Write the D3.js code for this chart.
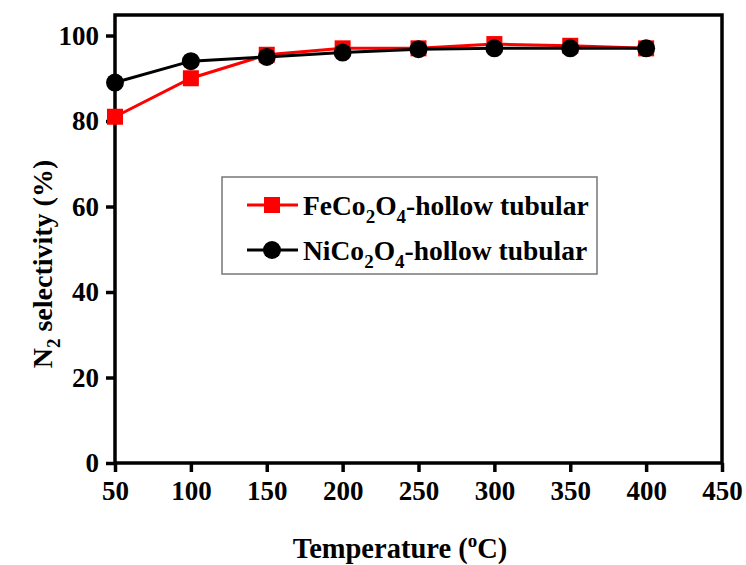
<!DOCTYPE html>
<html>
<head>
<meta charset="utf-8">
<script src="https://cdn.jsdelivr.net/npm/d3@7"></script>
<style>
  body { margin: 0; background: #fff; }
</style>
</head>
<body>
<div id="chart"></div>
<script>
var svgWidth = 746;
var svgHeight = 565;

var temps = [50, 100, 150, 200, 250, 300, 350, 400];
var feCo = [81, 90, 95.5, 97, 97, 98, 97.6, 97];
var niCo = [89, 94, 95, 96, 96.8, 97, 97, 97];
var xTicks = [50, 100, 150, 200, 250, 300, 350, 400, 450];
var yTicks = [0, 20, 40, 60, 80, 100];

var FONT = "Liberation Serif";

var margin = { top: 15, right: 24, bottom: 102, left: 115 };
var width = svgWidth - margin.left - margin.right;
var height = svgHeight - margin.top - margin.bottom;

var svg = d3.select("#chart").append("svg")
  .attr("width", svgWidth)
  .attr("height", svgHeight)
  .attr("font-family", FONT)
  .attr("font-weight", "bold");

var chart = svg.append("g")
  .attr("transform", `translate(${margin.left}, ${margin.top})`);

var x = d3.scaleLinear().domain([50, 450]).range([0, width]);
var y = d3.scaleLinear().domain([0, 104.8]).range([height, 0]);

// frame
chart.append("rect")
  .attr("width", width).attr("height", height)
  .attr("fill", "none").attr("stroke", "#000").attr("stroke-width", 3.5);

var xAxis = chart.append("g")
  .attr("transform", `translate(0, ${height})`)
  .call(d3.axisBottom(x).tickValues(xTicks).tickSize(9).tickPadding(9).tickFormat(d3.format("d")));
var yAxis = chart.append("g")
  .call(d3.axisLeft(y).tickValues(yTicks).tickSize(9).tickPadding(7).tickFormat(d3.format("d")));

[xAxis, yAxis].forEach(function(a) {
  a.attr("font-family", FONT).attr("font-size", 27).attr("font-weight", "bold");
  a.select(".domain").remove();
  a.selectAll("line").attr("stroke", "#000").attr("stroke-width", 3.5);
  a.selectAll("text").attr("fill", "#000");
});

var series = [
  { name: "FeCo", values: feCo, color: "#ff0000", shape: "square" },
  { name: "NiCo", values: niCo, color: "#000000", shape: "circle" }
];

var line = d3.line().x((d, i) => x(temps[i])).y(d => y(d));

series.forEach(function(s) {
  chart.append("path")
    .datum(s.values)
    .attr("d", line)
    .attr("fill", "none")
    .attr("stroke", s.color)
    .attr("stroke-width", 3);
  var pts = chart.selectAll(null).data(s.values).enter();
  if (s.shape === "square") {
    pts.append("rect")
      .attr("x", (d, i) => x(temps[i]) - 8)
      .attr("y", d => y(d) - 8)
      .attr("width", 16).attr("height", 16)
      .attr("fill", s.color);
  } else {
    pts.append("circle")
      .attr("cx", (d, i) => x(temps[i]))
      .attr("cy", d => y(d))
      .attr("r", 9)
      .attr("fill", s.color);
  }
});

// legend
var legend = svg.append("g").attr("transform", "translate(222, 177)");
legend.append("rect")
  .attr("width", 375).attr("height", 97)
  .attr("fill", "#fff").attr("stroke", "#777").attr("stroke-width", 1.5);

var legendNames = ["Fe", "Ni"];
series.forEach(function(s, i) {
  var ly = 28 + i * 45;
  var g = legend.append("g").attr("transform", `translate(0, ${ly})`);
  g.append("line").attr("x1", 25).attr("x2", 76).attr("y1", 0).attr("y2", 0)
    .attr("stroke", s.color).attr("stroke-width", 3);
  if (s.shape === "square") {
    g.append("rect").attr("x", 42).attr("y", -8).attr("width", 16).attr("height", 16).attr("fill", s.color);
  } else {
    g.append("circle").attr("cx", 50).attr("cy", 0).attr("r", 9).attr("fill", s.color);
  }
  var t = g.append("text").attr("x", 81).attr("y", 10).attr("font-size", 27.5).attr("fill", "#000");
  t.append("tspan").text(legendNames[i] + "Co");
  t.append("tspan").attr("dy", 8).attr("font-size", 19).text("2");
  t.append("tspan").attr("dy", -8).text("O");
  t.append("tspan").attr("dy", 8).attr("font-size", 19).text("4");
  t.append("tspan").attr("dy", -8).text("-hollow tubular");
});

// axis titles
var xt = svg.append("text")
  .attr("x", 400)
  .attr("y", 558)
  .attr("text-anchor", "middle")
  .attr("font-size", 28.5);
xt.append("tspan").text("Temperature (");
xt.append("tspan").attr("dy", -11).attr("font-size", 19).text("o");
xt.append("tspan").attr("dy", 11).text("C)");

var yt = svg.append("text")
  .attr("transform", `translate(52, 264) rotate(-90)`)
  .attr("text-anchor", "middle")
  .attr("font-size", 28);
yt.append("tspan").text("N");
yt.append("tspan").attr("dy", 8).attr("font-size", 19).text("2");
yt.append("tspan").attr("dy", -8).text(" selectivity (%)");
</script>
</body>
</html>
